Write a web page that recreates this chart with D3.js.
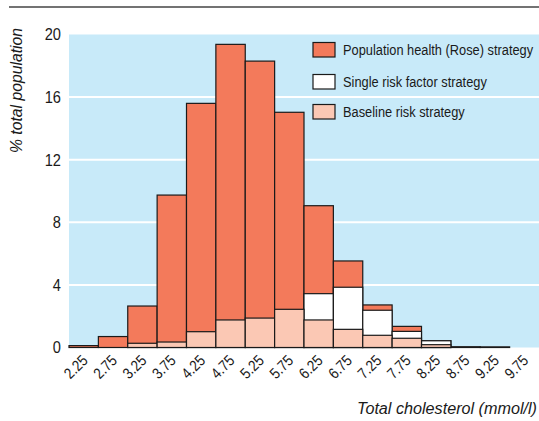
<!DOCTYPE html>
<html><head><meta charset="utf-8">
<script src="https://cdn.jsdelivr.net/npm/d3@7"></script>
<style>
body{margin:0;background:#fff;}
text{font-family:"Liberation Sans Narrow","Arial Narrow","Liberation Sans",Arial,sans-serif;fill:#1a1a1a;}
</style></head>
<body><svg id="c" width="539" height="421"></svg>
<script>
const categories = ["2.25","2.75","3.25","3.75","4.25","4.75","5.25","5.75","6.25","6.75","7.25","7.75","8.25","8.75","9.25","9.75"];
const roseValues     = [0.12,0.7,2.65,9.74,15.6,19.37,18.3,15.03,9.06,5.53,2.72,1.35,0.43,0.05,0.04,0];
const singleValues   = [0,0,0,0,0,0,0,0,3.44,3.85,2.38,1.03,0.43,0,0,0];
const baselineValues = [0,0,0.27,0.35,1.01,1.76,1.88,2.44,1.76,1.16,0.78,0.59,0.18,0,0,0];
const yTicks = [0,4,8,12,16,20];
const seriesNames = ["Population health (Rose) strategy","Single risk factor strategy","Baseline risk strategy"];
const colors = ["#F37A5B","#FFFFFF","#FBC8B4"];

const svg = d3.select("#c");
const pLeft = 69, pRight = 539, pTop = 34.5, pBottom = 347.5;
const x = d3.scaleBand().domain(categories).range([pLeft,pRight]).padding(0);
const y = d3.scaleLinear().domain([0,20]).range([pBottom,pTop]);

function condense(sel, f){
  sel.each(function(){
    const w = this.getComputedTextLength();
    d3.select(this).attr("textLength", w*f).attr("lengthAdjust","spacingAndGlyphs");
  });
}

// top rule
svg.append("line").attr("x1",9).attr("x2",539).attr("y1",7).attr("y2",7)
  .attr("stroke","#444").attr("stroke-width",1.5);

// background
svg.append("rect").attr("x",pLeft).attr("y",pTop).attr("width",pRight-pLeft).attr("height",pBottom-pTop).attr("fill","#C8EAF9");
// gridlines
svg.append("g").selectAll("line").data(yTicks.filter(d=>d>0&&d<20)).join("line")
  .attr("x1",pLeft).attr("x2",pRight).attr("y1",d=>y(d)).attr("y2",d=>y(d))
  .attr("stroke","#fff").attr("stroke-width",2);

// bars
const series = [roseValues, singleValues, baselineValues];
series.forEach((vals,i)=>{
  svg.append("g").selectAll("rect").data(categories.map((c,j)=>({c,v:vals[j]})).filter(d=>d.v>0)).join("rect")
    .attr("x",d=>x(d.c)).attr("width",x.bandwidth())
    .attr("y",d=>y(d.v)).attr("height",d=>y(0)-y(d.v))
    .attr("fill",colors[i]).attr("stroke","#1a1a1a").attr("stroke-width",1.2);
});

// y axis
const ya = d3.axisLeft(y).tickValues(yTicks).tickSize(0).tickPadding(8);
const yg = svg.append("g").attr("transform",`translate(${pLeft},0)`).call(ya);
yg.select(".domain").remove();
yg.selectAll("text").attr("font-size",17).style("fill","#1a1a1a");
condense(yg.selectAll("text"), 0.86);

// x axis
const xa = d3.axisBottom(x).tickSize(0).tickPadding(0);
const xg = svg.append("g").attr("transform",`translate(0,${pBottom})`).call(xa);
xg.select(".domain").remove();
xg.selectAll("text").attr("font-size",15.5).style("fill","#1a1a1a")
  .attr("text-anchor","end").attr("dy",null).attr("y",0)
  .attr("transform","translate(5,14) rotate(-45)");
condense(xg.selectAll("text"), 0.86);

// axis titles
const yt = svg.append("text").attr("transform","translate(22,28) rotate(-90)")
  .attr("text-anchor","end").attr("font-size",16).attr("font-style","italic")
  .text("% total population");
yt.attr("textLength",125).attr("lengthAdjust","spacingAndGlyphs");
const xt = svg.append("text").attr("x",537).attr("y",414).attr("text-anchor","end")
  .attr("font-size",16).attr("font-style","italic").text("Total cholesterol (mmol/l)");
xt.attr("textLength",180).attr("lengthAdjust","spacingAndGlyphs");

// legend
const lg = svg.append("g");
const rowsY = [42.5,74.5,104.5];
seriesNames.forEach((n,i)=>{
  lg.append("rect").attr("x",313).attr("y",rowsY[i]).attr("width",22).attr("height",14.5)
    .attr("fill",colors[i]).attr("stroke","#1a1a1a").attr("stroke-width",1.2);
  lg.append("g").attr("transform",`translate(343,${rowsY[i]+12.5}) scale(0.855,1)`)
    .append("text").attr("x",0).attr("y",0).attr("font-size",15).text(n);
});
</script></body></html>
